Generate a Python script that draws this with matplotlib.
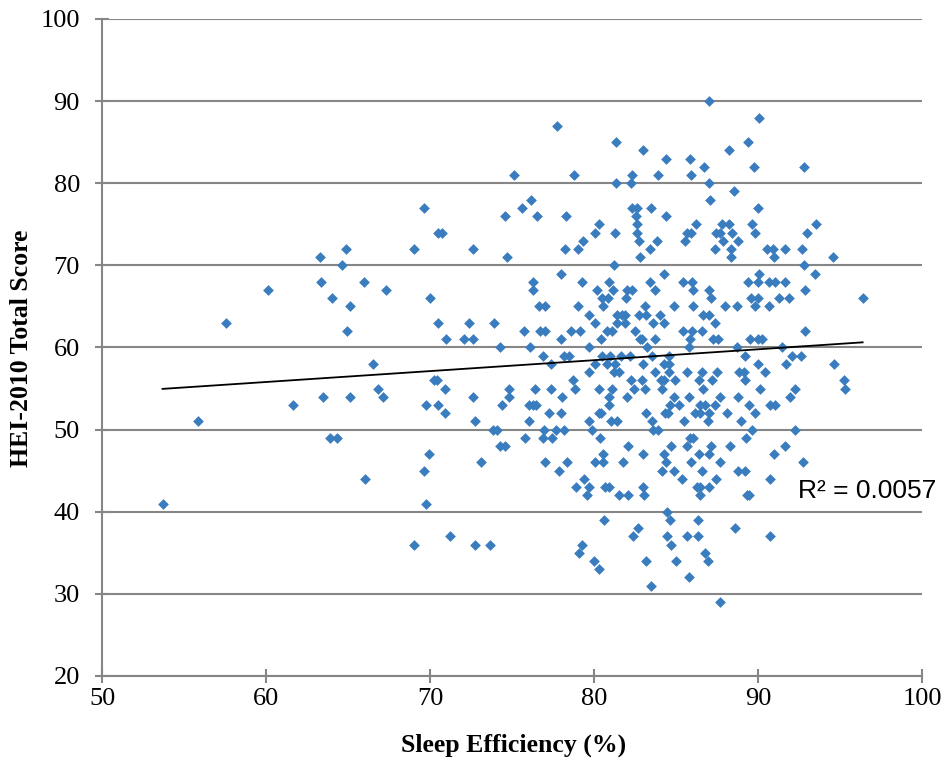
import numpy as np
import matplotlib
matplotlib.use("Agg")
import matplotlib.pyplot as plt

# sleep efficiency (%) and HEI-2010 total score
sleep_eff = [
    69.65, 64.84, 63.29, 69.02, 64.6, 63.33, 65.94, 60.08, 67.32, 64.0,
    69.96, 65.12, 57.52, 64.94, 70.5, 66.54, 70.2, 70.4, 66.81, 63.47,
    65.08, 67.15, 61.63, 69.73, 70.5, 55.87,
    63.86, 64.31, 69.91, 69.6, 66.04, 53.68, 69.76, 69.02,
    77.73, 75.12, 78.74, 76.14, 75.59, 74.57, 76.48, 78.29, 70.5, 70.7,
    72.6, 74.67, 78.23, 78.98, 79.3, 77.99,
    76.26, 79.25, 76.26, 76.6, 77.0, 78.98, 79.66, 72.34, 73.9, 70.98,
    72.03, 72.58, 75.73, 76.7, 77.0, 78.58, 79.1, 77.99, 74.27, 76.06,
    79.66, 76.87, 77.38, 78.13, 78.43, 79.66, 70.87, 72.6, 74.8, 74.8,
    76.4, 77.38, 78.68, 78.8, 78.03, 70.87, 74.37, 76.0, 76.24, 76.46,
    77.27, 77.99, 72.7, 76.0, 79.66, 73.8, 74.1, 76.96, 77.68, 78.13,
    75.75, 76.87, 77.42,
    74.27, 74.57, 73.09, 77.01, 78.33, 77.82, 79.39, 78.88, 79.66, 79.55,
    71.2, 72.74, 73.62, 79.25, 79.09,
    82.03, 80.51, 80.06, 80.51, 81.74, 83.0, 84.22, 84.67, 84.39, 84.15,
    84.88, 85.34, 85.65, 86.4, 85.91, 86.56, 87.11, 87.0, 87.64, 88.29,
    88.76, 87.41, 86.97, 86.26, 86.46, 86.46, 80.63, 80.91, 81.48, 82.05,
    83.0, 83.04, 84.43, 84.6, 80.59, 82.64, 82.34, 84.43, 84.65, 85.65,
    86.32, 86.32, 88.6, 86.77, 86.93, 80.0, 80.28, 83.13, 84.96, 85.79,
    83.48, 87.68,
    84.22, 80.87, 83.41, 85.4, 85.95, 80.16, 81.12, 81.99, 82.3, 83.72,
    85.99, 86.97, 80.47, 80.83, 81.93, 87.13, 80.53, 83.1, 84.84, 86.04,
    87.98, 88.69, 81.38, 81.68, 81.89, 82.74, 83.17, 84.02, 86.6, 86.97,
    80.02, 81.38, 81.85, 83.6, 84.28, 87.38, 80.77, 81.07, 82.46, 85.4,
    85.95, 86.56, 80.4, 82.76, 82.9, 83.72, 85.81, 87.21, 87.57, 83.21,
    85.79, 88.69, 80.47, 80.98, 81.64, 82.15, 83.51, 84.53, 80.02, 80.77,
    81.28, 83.0, 84.28, 84.53, 81.18, 81.48, 83.72, 84.53, 85.65, 86.56,
    87.48, 88.8, 82.26, 82.9, 84.08, 84.22, 84.94, 86.36, 87.17, 80.3,
    81.07, 82.4, 83.07, 84.12, 86.6, 80.87, 81.99, 84.84, 85.75, 87.68,
    80.91, 84.63, 85.14, 86.46, 86.77, 87.38, 80.26, 80.43, 83.15, 84.33,
    84.5, 86.16, 86.46, 87.0, 88.09, 81.03, 81.38, 83.51, 85.44, 86.93,
    79.85, 83.6, 83.9, 80.37, 85.85, 86.04,
    86.97, 81.3, 88.23, 83.0, 84.39, 85.85, 86.7, 82.29, 83.86, 85.89,
    81.3, 82.23, 86.97, 88.49, 87.07, 82.29, 82.6, 83.43, 82.54, 84.37,
    82.6, 80.26, 86.22, 87.78, 88.23, 80.02, 81.28, 82.6, 85.65, 85.89,
    87.44, 87.64, 88.39, 82.74, 83.82, 85.55, 87.82, 88.76, 83.41, 87.38,
    88.35, 82.8, 88.35, 81.22,
    90.06, 89.35, 89.72, 92.8, 89.96, 89.6, 93.52, 89.82, 92.96, 90.53,
    90.87, 91.65, 92.66, 90.98, 94.55, 92.8, 90.06, 93.43,
    89.35, 89.98, 90.63, 90.99, 91.6, 92.82, 89.55, 89.98, 91.24, 91.89,
    96.36, 89.82, 90.63, 92.82, 89.51, 89.98, 90.22, 91.44, 89.16, 92.05,
    92.62, 89.98, 91.71, 94.61, 89.1, 90.43, 89.2, 95.2, 90.12, 92.26,
    95.3, 88.75, 91.91, 89.41, 90.69, 91.0, 89.82, 88.96, 89.6, 92.26,
    89.24,
    91.65, 90.93, 92.72, 89.2, 90.69, 89.3, 89.45, 90.69,
]
hei_score = [
    77, 72, 71, 72, 70, 68, 68, 67, 67, 66,
    66, 65, 63, 62, 63, 58, 56, 56, 55, 54,
    54, 54, 53, 53, 53, 51,
    49, 49, 47, 45, 44, 41, 41, 36,
    87, 81, 81, 78, 77, 76, 76, 76, 74, 74,
    72, 71, 72, 72, 73, 69,
    68, 68, 67, 65, 65, 65, 64, 63, 63, 61,
    61, 61, 62, 62, 62, 62, 62, 61, 60, 60,
    60, 59, 58, 59, 59, 57, 55, 54, 55, 54,
    55, 55, 56, 55, 54, 52, 53, 53, 53, 53,
    52, 52, 51, 51, 51, 50, 50, 50, 50, 50,
    49, 49, 49,
    48, 48, 46, 46, 46, 45, 44, 43, 43, 42,
    37, 36, 36, 36, 35,
    48, 47, 46, 46, 46, 47, 47, 48, 46, 45,
    45, 44, 48, 47, 46, 45, 48, 47, 46, 48,
    45, 44, 43, 43, 43, 42, 43, 43, 42, 42,
    43, 42, 40, 39, 39, 38, 37, 37, 36, 37,
    39, 37, 38, 35, 34, 34, 33, 34, 34, 32,
    31, 29,
    69, 68, 68, 68, 68, 67, 67, 67, 67, 67,
    67, 67, 66, 66, 66, 66, 65, 65, 65, 65,
    65, 65, 64, 64, 64, 64, 64, 64, 64, 64,
    63, 63, 63, 63, 63, 63, 62, 62, 62, 62,
    62, 62, 61, 61, 61, 61, 61, 61, 61, 60,
    60, 60, 59, 59, 59, 59, 59, 59, 58, 58,
    58, 58, 58, 58, 57, 57, 57, 57, 57, 57,
    57, 57, 56, 56, 56, 56, 56, 56, 56, 55,
    55, 55, 55, 55, 55, 54, 54, 54, 54, 54,
    53, 53, 53, 53, 53, 53, 52, 52, 52, 52,
    52, 52, 52, 52, 52, 51, 51, 51, 51, 51,
    50, 50, 50, 49, 49, 49,
    90, 85, 84, 84, 83, 83, 82, 81, 81, 81,
    80, 80, 80, 79, 78, 77, 77, 77, 76, 76,
    75, 75, 75, 75, 75, 74, 74, 74, 74, 74,
    74, 74, 74, 73, 73, 73, 73, 73, 72, 72,
    72, 71, 71, 70,
    88, 85, 82, 82, 77, 75, 75, 74, 74, 72,
    72, 72, 72, 71, 71, 70, 69, 69,
    68, 68, 68, 68, 68, 67, 66, 66, 66, 66,
    66, 65, 65, 62, 61, 61, 61, 60, 59, 59,
    59, 58, 58, 58, 57, 57, 56, 56, 55, 55,
    55, 54, 54, 53, 53, 53, 52, 51, 50, 50,
    49,
    48, 47, 46, 45, 44, 42, 42, 37,
]

x = np.array(sleep_eff)
y = np.array(hei_score)

fig = plt.figure(figsize=(9.46, 7.66), dpi=100)
ax = fig.add_axes([0.108, 0.1175, 0.867, 0.8577])

ax.set_xlim(50, 100)
ax.set_ylim(20, 100)
ax.set_xticks(np.arange(50, 101, 10))
ax.set_yticks(np.arange(20, 101, 10))
ax.yaxis.grid(True, color='#868686', linewidth=1.5)
ax.set_axisbelow(True)

ax.scatter(x, y, marker='D', s=30, color='#3A7DBF', linewidths=0, zorder=3)

# linear trendline over the data range
slope, intercept = np.polyfit(x, y, 1)
xs = np.array([x.min(), x.max()])
ax.plot(xs, slope * xs + intercept, color='black', linewidth=1.3, zorder=4)

ax.text(92.4, 42.5, 'R\u00b2 = 0.0057', fontsize=19, family='Liberation Sans',
        va='center', ha='left')

for s in ['top', 'right']:
    ax.spines[s].set_visible(False)
for s in ['left', 'bottom']:
    ax.spines[s].set_color('#868686')
    ax.spines[s].set_linewidth(1.5)

ax.tick_params(axis='both', direction='inout', length=10, width=1.5, color='#868686',
               labelsize=19)
ax.tick_params(axis='y', pad=11)
ax.tick_params(axis='x', pad=4)
for lab in ax.get_xticklabels() + ax.get_yticklabels():
    lab.set_family('Liberation Serif')

fig.text(514 / 946, 1 - 745 / 766, 'Sleep Efficiency (%)', fontsize=18.5,
         fontweight='bold', family='Liberation Serif', ha='center', va='center')
fig.text(22 / 946, 1 - 348 / 766, 'HEI-2010 Total Score', fontsize=18.5,
         fontweight='bold', family='Liberation Serif', ha='center', va='center',
         rotation=90)

fig.savefig('out.png', dpi=100)
